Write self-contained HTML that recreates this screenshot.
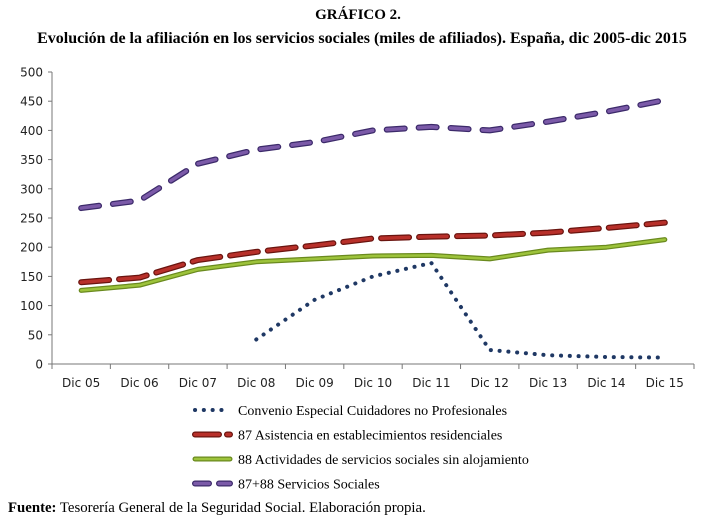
<!DOCTYPE html>
<html><head><meta charset="utf-8"><style>
body{margin:0;background:#fff;width:717px;height:524px;overflow:hidden;font-family:"Liberation Serif",serif}
svg{position:absolute;left:0;top:0}
</style></head><body>
<svg width="717" height="524">
<text x="358" y="19" text-anchor="middle" font-size="15" font-weight="bold">GRÁFICO 2.</text>
<text x="362" y="43" text-anchor="middle" font-size="16" font-weight="bold">Evolución de la afiliación en los servicios sociales (miles de afiliados). España, dic 2005-dic 2015</text>
<g id="axes" font-family="DejaVu Sans, Liberation Sans, sans-serif" font-size="12" fill="#222"></g>
<g id="series"></g>
<g id="legend" font-size="14"></g>
<text x="8" y="512" font-size="14.8"><tspan font-weight="bold">Fuente:</tspan> Tesorería General de la Seguridad Social. Elaboración propia.</text>
</svg>
<script>
const categories=["Dic 05","Dic 06","Dic 07","Dic 08","Dic 09","Dic 10","Dic 11","Dic 12","Dic 13","Dic 14","Dic 15"];
const yTicks=[0,50,100,150,200,250,300,350,400,450,500];
const cuidadores=[null,null,null,42,110,150,173,24,15,12,11];
const residenciales=[140,148,178,192,203,215,218,220,225,233,242];
const sinAlojamiento=[126,135,162,175,180,185,186,180,195,200,213];
const serviciosSociales=[267,280,343,367,380,400,406,400,415,432,452];
const seriesNames=["Convenio Especial Cuidadores no Profesionales","87 Asistencia en establecimientos residenciales","88 Actividades de servicios sociales sin alojamiento","87+88 Servicios Sociales"];
const NS="http://www.w3.org/2000/svg";
const x0=52,x1=694,yb=364,yt=72;
const step=(x1-x0)/categories.length;
const X=i=>x0+step*(i+0.5);
const Y=v=>yb-(v/500)*(yb-yt);
function mk(t,a,p){const e=document.createElementNS(NS,t);for(const k in a)e.setAttribute(k,a[k]);p.appendChild(e);return e;}
const ax=document.getElementById('axes');
const yl=mk('line',{x1:x0,y1:yt,x2:x0,y2:yb,stroke:'#777'},ax);


const xl=mk('line',{x1:x0,y1:yb,x2:x1,y2:yb,stroke:'#777'},ax);


yTicks.forEach(v=>{
 mk('line',{x1:x0-4,y1:Y(v),x2:x0,y2:Y(v),stroke:'#777'},ax);
 const t=mk('text',{x:x0-9,y:Y(v)+4.5,'text-anchor':'end'},ax);t.textContent=v;
 
 
});
for(let i=0;i<=categories.length;i++)mk('line',{x1:x0+step*i,y1:yb,x2:x0+step*i,y2:yb+5,stroke:'#777'},ax);
categories.forEach((c,i)=>{
 const t=mk('text',{x:X(i),y:yb+23,'text-anchor':'middle'},ax);t.textContent=c;
 
 
});
const styles=[
 {stroke:'#1f3864',w:4,dash:'0.1 8.7',cap:'round'},
 {stroke:'#6a140f',w:6,dash:'28 10',cap:'round',inner:'#b8302a'},
 {stroke:'#6a8a1e',w:5,dash:null,cap:'round',inner:'#9dc33b'},
 {stroke:'#3c2a6a',w:6,dash:'18 14',cap:'round',inner:'#7b5aa8'}];
const data=[cuidadores,residenciales,sinAlojamiento,serviciosSociales];
const sg=document.getElementById('series');
const order=[2,1,3,0];
order.forEach(k=>{
 const d=data[k];let p='';
 d.forEach((v,i)=>{if(v==null)return;p+=(p?'L':'M')+X(i)+','+Y(v);});
 const s=styles[k];
 const a={d:p,fill:'none',stroke:s.stroke,'stroke-width':s.w,'stroke-linecap':s.cap,'stroke-linejoin':'round'};
 if(s.dash)a['stroke-dasharray']=s.dash;
 const e=mk('path',a,sg);
 
 
 if(s.inner){const b=Object.assign({},a,{stroke:s.inner,'stroke-width':s.w-2.5});mk('path',b,sg);}
});
const lg=document.getElementById('legend');
seriesNames.forEach((n,k)=>{
 const y=410+k*24.5,s=styles[k];
 const a={x1:195,y1:y,x2:230,y2:y,stroke:s.stroke,'stroke-width':s.w,'stroke-linecap':s.cap};
 if(s.dash)a['stroke-dasharray']=k==1?'24 8':(k==3?'14 10':s.dash);
 const l=mk('line',a,lg);
 
 
 if(s.inner){const b=Object.assign({},a,{stroke:s.inner,'stroke-width':s.w-2.5});mk('line',b,lg);}
 const t=mk('text',{x:238,y:y+5},lg);t.textContent=n;
 
 
});
</script>
</body></html>
